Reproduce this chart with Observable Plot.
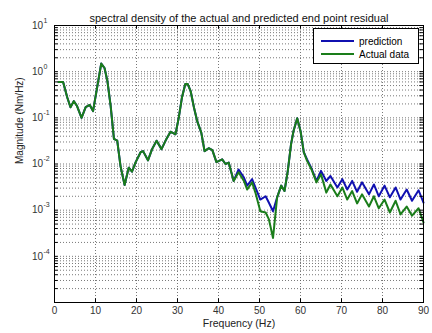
<!DOCTYPE html>
<html><head><meta charset="utf-8">
<script src="https://cdn.jsdelivr.net/npm/d3@7"></script>
<script src="https://cdn.jsdelivr.net/npm/@observablehq/plot@0.6"></script>
<style>
body{margin:0;background:#fff;font-family:"Liberation Sans",Arial,sans-serif}
#wrap{position:relative;width:432px;height:333px}
.legend{position:absolute;left:313px;top:28px;width:104px;height:34px;border:1px solid #000;background:#fff;font-size:10px;color:#000}
.legend .row{position:absolute;left:7px;height:12px;display:flex;align-items:center}
.legend .sw{width:33px;height:2px;margin-right:5px}
</style>
</head><body>
<div id="wrap"></div>
<script>
const title = "spectral density of the actual and predicted end point residual";
const xLabel = "Frequency (Hz)";
const yLabel = "Magnitude (Nm/Hz)";
const seriesNames = ["prediction", "Actual data"];
const seriesColors = ["#1010b0", "#1a7d1a"];
const xTicks = [0,10,20,30,40,50,60,70,80,90];
const yDecades = [-5,-4,-3,-2,-1,0,1];
const yLabelDecades = [-4,-3,-2,-1,0,1];

const freq = [1.0,2.1,3.1,3.9,4.7,5.5,6.6,7.6,8.6,9.4,
10.6,11.4,12.2,12.9,13.7,14.5,15.3,16.1,17.1,18.1,
18.9,19.8,21.0,21.6,22.8,23.8,24.9,26.1,27.3,28.3,
29.5,30.3,31.1,31.9,32.5,33.2,34.0,34.8,35.8,36.6,
37.6,38.5,39.5,40.9,41.7,42.5,43.7,44.9,46.2,47.0,
48.2,49.0,50.2,51.5,52.3,53.3,54.3,55.3,56.1,56.9,
57.7,58.3,59.2,60.0,60.8,61.6,62.6,63.9,65.0,66.3,
67.3,69.0,70.2,71.4,72.6,73.8,75.0,76.7,77.9,79.1,
80.5,81.8,83.2,84.4,85.9,87.2,88.8,90.0];

const actual = [0.60,0.60,0.28,0.17,0.23,0.18,0.10,0.17,0.19,0.14,
0.58,1.5,1.2,0.63,0.18,0.035,0.032,0.009,0.0035,0.0083,
0.0068,0.011,0.018,0.019,0.012,0.021,0.032,0.021,0.035,0.050,
0.044,0.10,0.28,0.54,0.54,0.38,0.17,0.085,0.048,0.019,
0.022,0.020,0.011,0.0126,0.010,0.0107,0.0043,0.0066,0.0043,0.0028,
0.0040,0.0024,0.00095,0.00089,0.00063,0.00025,0.0019,0.0034,0.0026,0.0071,
0.027,0.052,0.098,0.052,0.018,0.0117,0.0079,0.0040,0.0060,0.0024,
0.0036,0.0020,0.0031,0.0017,0.0026,0.0014,0.0022,0.0012,0.0020,0.0011,
0.0017,0.00089,0.0016,0.00081,0.0012,0.00076,0.0011,0.00054];

const prediction = [0.60,0.60,0.28,0.17,0.23,0.18,0.10,0.17,0.19,0.14,
0.58,1.5,1.2,0.63,0.18,0.035,0.032,0.009,0.0035,0.0083,
0.0068,0.011,0.018,0.019,0.012,0.021,0.032,0.021,0.035,0.050,
0.044,0.10,0.28,0.54,0.54,0.38,0.17,0.085,0.048,0.019,
0.022,0.020,0.011,0.0126,0.010,0.0107,0.0043,0.0076,0.0051,0.0034,
0.0047,0.0031,0.0017,0.0020,0.00145,0.00095,0.0019,0.0034,0.0026,0.0071,
0.027,0.052,0.098,0.052,0.018,0.0126,0.0083,0.0043,0.0071,0.0043,
0.0055,0.0031,0.0047,0.0028,0.0043,0.0025,0.0040,0.0022,0.0036,0.0020,
0.0034,0.0019,0.0031,0.0017,0.0028,0.0016,0.0027,0.00145];

const predRows = freq.map((f,i)=>({f, v: prediction[i]}));
const actRows = freq.map((f,i)=>({f, v: actual[i]}));
const majors = yDecades.map(d=>Math.pow(10,d));
const minors = [];
yDecades.slice(0,-1).forEach(d=>{for(let k=2;k<=9;k++) minors.push(k*Math.pow(10,d));});
const allY = majors.concat(minors);
const xGrid = xTicks.slice(1,-1);

const gridStyle = {stroke:"#555", strokeWidth:0.8, strokeDasharray:"1,2"};
const tickLenX = 0.9, tickFacY = 1.2;

const chart = Plot.plot({
  width:432, height:333,
  marginLeft:54, marginRight:9, marginTop:25, marginBottom:31,
  style:{fontFamily:"'Liberation Sans',Arial,sans-serif", background:"#fff"},
  x:{domain:[0,90], label:null},
  y:{type:"log", domain:[1e-5,10], label:null},
  marks:[
    Plot.ruleX(xGrid, gridStyle),
    Plot.ruleY(allY.filter(v=>v>1e-5 && v<10), gridStyle),
    Plot.line(predRows, {x:"f", y:"v", stroke:seriesColors[0], strokeWidth:2}),
    Plot.line(actRows, {x:"f", y:"v", stroke:seriesColors[1], strokeWidth:2}),
    Plot.frame({stroke:"#000"}),
    Plot.ruleY(allY, {x1:0, x2:tickLenX, stroke:"#000"}),
    Plot.ruleY(allY, {x1:90-tickLenX, x2:90, stroke:"#000"}),
    Plot.ruleX(xTicks, {y1:1e-5, y2:1e-5*tickFacY, stroke:"#000"}),
    Plot.ruleX(xTicks, {y1:10/tickFacY, y2:10, stroke:"#000"}),
    Plot.axisX(xTicks, {tickSize:0, tickPadding:4, fontSize:10, tickFormat:d=>String(d), fill:"#333"}),
    Plot.axisY({ticks:[], tickSize:0}),
    Plot.text(yLabelDecades, {y:d=>Math.pow(10,d), frameAnchor:"left", text:()=>"10", textAnchor:"end", dx:-11.5, fontSize:10, fill:"#333"}),
    Plot.text(yLabelDecades, {y:d=>Math.pow(10,d), frameAnchor:"left", text:d=>String(d), textAnchor:"start", dx:-11, dy:-5, fontSize:7, fill:"#333"}),
    Plot.text([title], {frameAnchor:"top", dy:-11, fontSize:11, fill:"#111"}),
    Plot.text([xLabel], {frameAnchor:"bottom", dy:24, fontSize:10.5, fill:"#222"}),
    Plot.text([yLabel], {frameAnchor:"left", dx:-35, rotate:-90, fontSize:10, fill:"#222"})
  ]
});
const wrap = document.getElementById("wrap");
wrap.appendChild(chart);
const lg = document.createElement("div");
lg.className = "legend";
seriesNames.forEach((n,i)=>{
  const r = document.createElement("div");
  r.className = "row";
  r.style.top = (6 + i*13) + "px";
  const s = document.createElement("span"); s.className="sw"; s.style.background = seriesColors[i];
  const t = document.createElement("span"); t.textContent = n;
  r.appendChild(s); r.appendChild(t); lg.appendChild(r);
});
wrap.appendChild(lg);
</script>
</body></html>
